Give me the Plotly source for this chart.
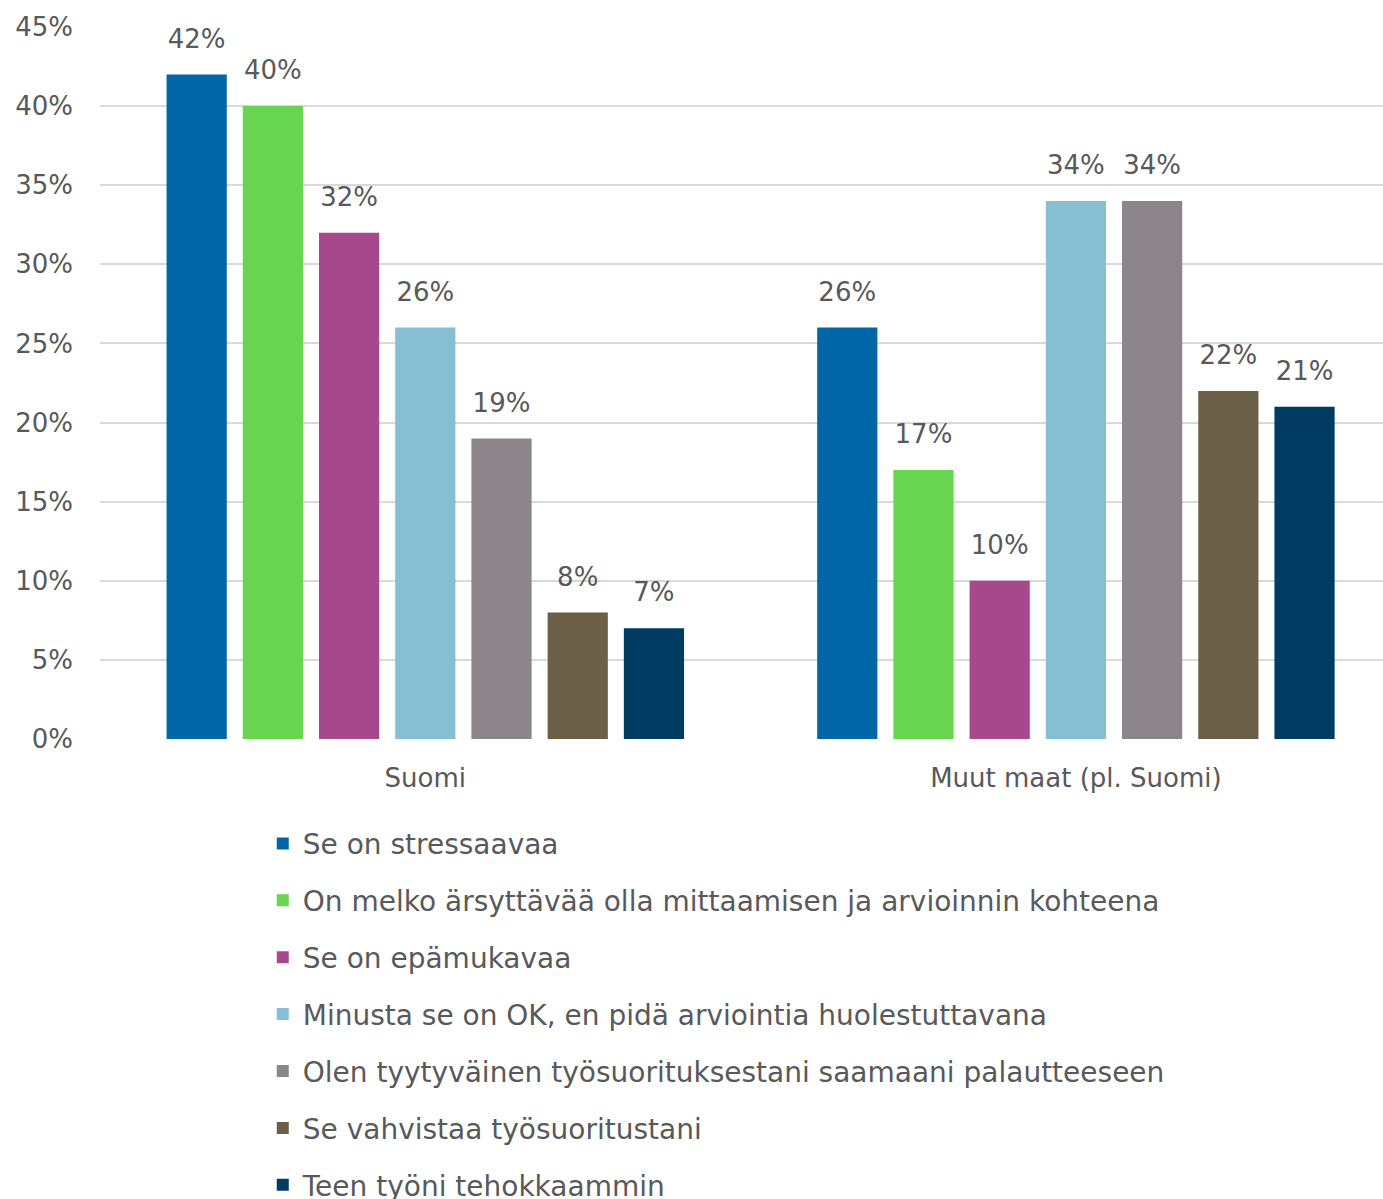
import plotly.graph_objects as go

# Survey: how respondents feel about being measured and evaluated at work
categories = ["Suomi", "Muut maat (pl. Suomi)"]

series_names = [
    "Se on stressaavaa",
    "On melko ärsyttävää olla mittaamisen ja arvioinnin kohteena",
    "Se on epämukavaa",
    "Minusta se on OK, en pidä arviointia huolestuttavana",
    "Olen tyytyväinen työsuorituksestani saamaani palautteeseen",
    "Se vahvistaa työsuoritustani",
    "Teen työni tehokkaammin",
]

stressaavaa = [42, 26]
arsyttavaa = [40, 17]
epamukavaa = [32, 10]
ok = [26, 34]
tyytyvainen = [19, 34]
vahvistaa = [8, 22]
tehokkaammin = [7, 21]

series_values = [stressaavaa, arsyttavaa, epamukavaa, ok, tyytyvainen, vahvistaa, tehokkaammin]

colors = ["#0066A8", "#69D44F", "#A8488C", "#86BED4", "#8C8589", "#6B5F47", "#003B62"]

ytick_vals = [0, 5, 10, 15, 20, 25, 30, 35, 40, 45]

FONT = "DejaVu Sans"
TEXT = "#595959"

fig = go.Figure()

for i, (name, vals, col) in enumerate(zip(series_names, series_values, colors)):
    fig.add_trace(go.Bar(
        x=categories, y=vals, name=name,
        marker=dict(color=col, line=dict(width=0)),
        legendgroup=f"g{i}", offsetgroup=f"o{i}",
        hoverinfo="skip",
    ))

# value labels, grouped alongside the bars and lifted by an invisible marker
for i, vals in enumerate(series_values):
    fig.add_trace(go.Scatter(
        x=categories, y=vals, mode="markers+text",
        text=[f"{v}%" for v in vals], textposition="top center",
        textfont=dict(family=FONT, size=26, color=TEXT),
        marker=dict(size=31, color="rgba(0,0,0,0)"),
        offsetgroup=f"o{i}", showlegend=False, hoverinfo="skip",
        cliponaxis=False,
    ))

fig.update_layout(
    width=1383, height=1199,
    margin=dict(l=100, r=0, t=27, b=460, autoexpand=False),
    paper_bgcolor="white", plot_bgcolor="white",
    barmode="group", bargap=0.18, bargroupgap=0.21,
    scattermode="group", scattergap=0.18,
    font=dict(family=FONT, size=26, color=TEXT),
    xaxis=dict(
        range=[-0.5, 1.472], showgrid=False, showline=False, zeroline=False,
        ticks="", ticklabelstandoff=21, tickangle=0, automargin=False,
        tickfont=dict(family=FONT, size=26, color=TEXT),
    ),
    yaxis=dict(
        range=[0, 45], tickvals=ytick_vals, ticktext=[f"{v}%" for v in ytick_vals],
        showgrid=True, gridcolor="#D9D9D9", gridwidth=2,
        zeroline=False, showline=False, ticks="", ticklabelstandoff=26,
        automargin=False,
        tickfont=dict(family=FONT, size=26, color=TEXT),
    ),
    legend=dict(
        xref="container", yref="container", x=0.19, y=0.3172,
        xanchor="left", yanchor="top", orientation="v",
        font=dict(family=FONT, size=28, color=TEXT),
        tracegroupgap=17.5, bgcolor="rgba(0,0,0,0)",
    ),
    showlegend=True,
)

fig.write_html("out.html")
